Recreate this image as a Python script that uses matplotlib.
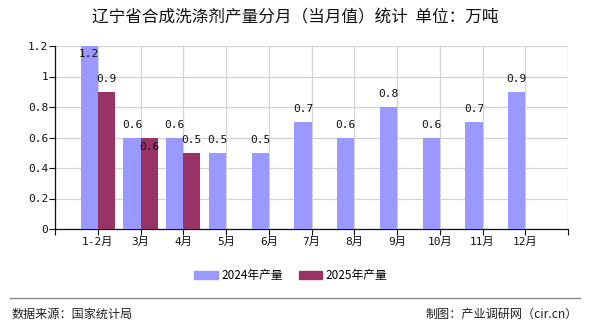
import matplotlib
matplotlib.use("Agg")
import matplotlib.pyplot as plt
from matplotlib.patches import Rectangle
from matplotlib.lines import Line2D

plt.rcParams['font.family'] = ['Noto Sans CJK SC', 'DejaVu Sans']

title = "辽宁省合成洗涤剂产量分月（当月值）统计  单位：万吨"
months = ["1-2月", "3月", "4月", "5月", "6月", "7月", "8月", "9月", "10月", "11月", "12月"]
values_2024 = [1.2, 0.6, 0.6, 0.5, 0.5, 0.7, 0.6, 0.8, 0.6, 0.7, 0.9]
values_2025 = [0.9, 0.6, 0.5]
series_names = ["2024年产量", "2025年产量"]
yticks = [0, 0.2, 0.4, 0.6, 0.8, 1.0, 1.2]
ytick_labels = ["0", "0.2", "0.4", "0.6", "0.8", "1", "1.2"]
source_text = "数据来源：国家统计局"
credit_text = "制图：产业调研网（cir.cn）"

c24 = "#9999FF"
c25 = "#993366"
mono = ['DejaVu Sans Mono', 'Noto Sans CJK SC']

fig = plt.figure(figsize=(5.9, 3.3), dpi=100)
ax = fig.add_axes([55/590, 1-229/330, 513/590, 183/330])

n = len(months)
w = 0.4
x24 = [i - w/2 for i in range(n)]
x25 = [i + w/2 for i in range(len(values_2025))]
ax.bar(x24, values_2024, width=w, color=c24, zorder=3, linewidth=0)
ax.bar(x25, values_2025, width=w, color=c25, zorder=3, linewidth=0)

ymax = 1.2
ax.set_xlim(-1, n)
ax.set_ylim(0, ymax)

lab_kw = dict(ha="center", va="center", fontsize=8, color="#111111", zorder=5, family=mono)
for i, v in enumerate(values_2024):
    if v >= ymax:
        ax.text(x24[i], v - 0.055, f"{v:g}", **lab_kw)
    else:
        ax.text(x24[i], v + 0.085, f"{v:g}", **lab_kw)
for i, v in enumerate(values_2025):
    if abs(v - values_2024[i]) < 1e-9:
        ax.text(x25[i], v - 0.06, f"{v:g}", **lab_kw)
    else:
        ax.text(x25[i], v + 0.085, f"{v:g}", **lab_kw)

ax.set_yticks(yticks)
ax.set_yticklabels(ytick_labels, family=mono)
ax.set_xticks(list(range(-1, n + 1)))
ax.set_xticklabels([""] + months + [""], family=mono)
ax.tick_params(axis="both", labelsize=8, colors="#111111", length=4, width=0.8, direction="out")
ax.tick_params(axis="x", pad=2)
ax.tick_params(axis="y", pad=1)

ax.grid(True, color="#d4d4d4", linewidth=0.9, zorder=0)
ax.set_axisbelow(True)
for s in ["top", "right"]:
    ax.spines[s].set_visible(False)
ax.spines["left"].set_color("#111111")
ax.spines["bottom"].set_color("#111111")
ax.spines["left"].set_linewidth(0.9)
ax.spines["bottom"].set_linewidth(0.9)

fig.text(0.5, 1-18/330, title, ha="center", va="center", fontsize=12, color="#111111")

handles = [Rectangle((0, 0), 1, 1, color=c24), Rectangle((0, 0), 1, 1, color=c25)]
fig.legend(handles, series_names, loc="center", bbox_to_anchor=(291/590, 1-276/330),
           ncol=2, frameon=False, fontsize=8.5, handlelength=1.95, handleheight=0.65,
           columnspacing=1.4, handletextpad=0.3)

fig.add_artist(Line2D([10/590, 580/590], [1-298/330, 1-298/330], color="#888888", linewidth=1.0))
fig.text(12/590, 1-314/330, source_text, ha="left", va="center", fontsize=8.7, color="#222222")
fig.text(578/590, 1-314/330, credit_text, ha="right", va="center", fontsize=8.7, color="#222222")

fig.savefig("out.png", dpi=100)
